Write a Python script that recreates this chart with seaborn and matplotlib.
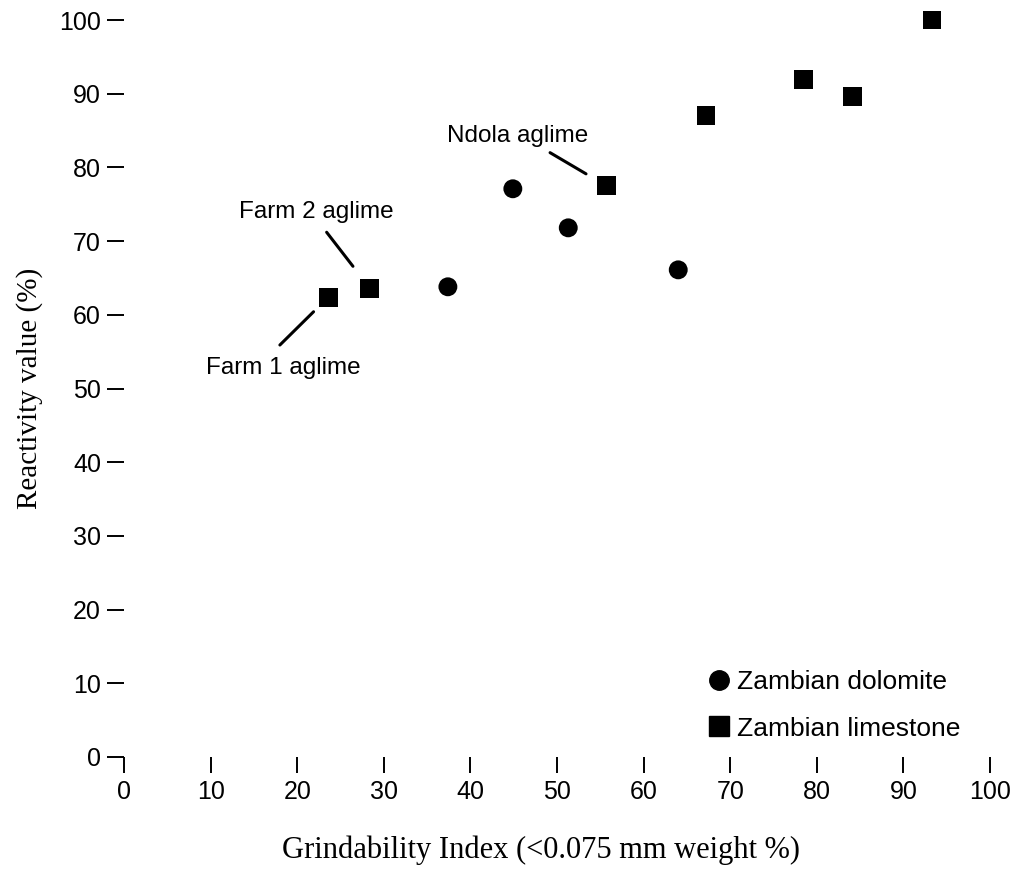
import matplotlib
matplotlib.use("Agg")
import matplotlib.pyplot as plt
import seaborn as sns
import pandas as pd
from matplotlib.lines import Line2D

# Grindability index (<0.075 mm weight %) and reactivity value (%)
dolomite_x = [37.4, 44.9, 51.3, 64.0]
dolomite_y = [63.8, 77.1, 71.8, 66.1]
limestone_x = [23.6, 28.4, 55.7, 67.2, 78.5, 84.1, 93.3]
limestone_y = [62.4, 63.6, 77.5, 87.1, 91.9, 89.6, 100.0]
series_names = ["Zambian dolomite", "Zambian limestone"]
x_ticks = list(range(0, 101, 10))
y_ticks = list(range(0, 101, 10))

df = pd.DataFrame({
    "x": dolomite_x + limestone_x,
    "y": dolomite_y + limestone_y,
    "type": [series_names[0]] * len(dolomite_x) + [series_names[1]] * len(limestone_x),
})

sns.set_style("white")
plt.rcParams["font.family"] = ["Liberation Sans", "DejaVu Sans"]
plt.rcParams.update({
    "text.color": "black",
    "axes.labelcolor": "black",
    "xtick.color": "black",
    "ytick.color": "black",
})

fig = plt.figure(figsize=(10.2, 8.69), dpi=100)
ax = fig.add_axes([124 / 1020, 1 - 757 / 869, (990 - 124) / 1020, (757 - 20) / 869])

sns.scatterplot(
    data=df, x="x", y="y", style="type",
    markers={series_names[0]: "o", series_names[1]: "s"},
    color="black", edgecolor="none", s=190, ax=ax, clip_on=False,
    legend=False,
)
# square markers are a bit larger than the circles
for coll, size in zip(ax.collections, [185, 240]):
    coll.set_sizes([size])

ax.set_xlim(0, 100)
ax.set_ylim(0, 100)
ax.set_xticks(x_ticks)
ax.set_yticks(y_ticks)
for sp in ax.spines.values():
    sp.set_visible(False)
ax.tick_params(axis="both", direction="out", width=1.4, color="black",
               labelcolor="black", labelsize=18, bottom=True, left=True)
ax.tick_params(axis="x", length=11.5, pad=5)
ax.tick_params(axis="y", length=12.5, pad=4)

ax.set_xlabel("Grindability Index (<0.075 mm weight %)", family="Liberation Serif",
              fontsize=22, labelpad=23, color="black")
ax.xaxis.label.set_x(0.4815)
ax.set_ylabel("Reactivity value (%)", family="Liberation Serif", fontsize=21,
              labelpad=12, color="black")

# annotations for the named aglime samples
notes = [
    ("Farm 2 aglime", (limestone_x[1], limestone_y[1]), (23.4, 71.2), (22.2, 73.9), 20),
    ("Farm 1 aglime", (limestone_x[0], limestone_y[0]), (18.0, 55.9), (18.4, 52.8), 15),
    ("Ndola aglime", (limestone_x[2], limestone_y[2]), (49.2, 82.0), (45.5, 84.3), 17),
]
for label, pt, start, txt, shrink in notes:
    ax.annotate("", xy=pt, xytext=start,
                arrowprops=dict(arrowstyle="-", color="black", lw=2.2,
                                shrinkA=0, shrinkB=shrink))
    ax.text(txt[0], txt[1], label, ha="center", va="center", fontsize=17.5, color="black")

handles = [
    Line2D([], [], marker="o", color="black", linestyle="none", markersize=14),
    Line2D([], [], marker="s", color="black", linestyle="none", markersize=14),
]
leg = ax.legend(handles, series_names, loc="upper left",
                bbox_to_anchor=(695 / 1020, 1 - 657 / 869),
                bbox_transform=fig.transFigure, frameon=False, fontsize=19,
                handlelength=0.8, handletextpad=0.3, labelspacing=0.85, borderpad=0)
for t in leg.get_texts():
    t.set_color("black")

fig.savefig("out.png", dpi=100)
